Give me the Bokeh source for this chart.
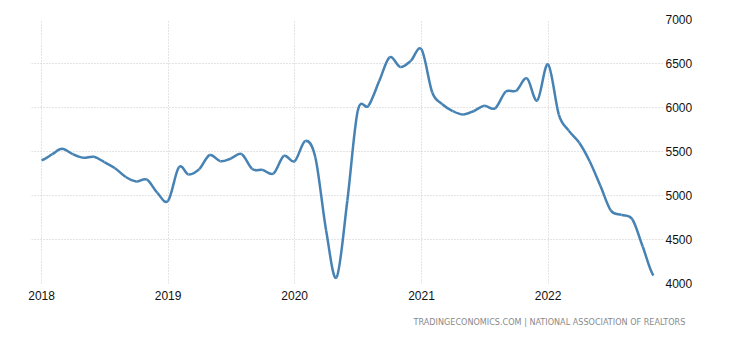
import pandas as pd
import numpy as np
from bokeh.plotting import figure
from bokeh.models import (Range1d, FixedTicker, DatetimeTickFormatter,
                          Title, NumeralTickFormatter)
from bokeh.embed import file_html
from bokeh.resources import INLINE

# Existing home sales (thousands, SAAR), monthly Jan 2018 - Nov 2022
start_month = "2018-01-01"
sales = [
    5400, 5470, 5530, 5470, 5430, 5440, 5380, 5310, 5210, 5160, 5180, 5030,   # 2018
    4940, 5320, 5240, 5300, 5460, 5390, 5420, 5470, 5300, 5290, 5250, 5450,   # 2019
    5390, 5620, 5430, 4600, 4070, 4940, 5960, 6020, 6300, 6570, 6460, 6530,   # 2020
    6660, 6170, 6040, 5960, 5920, 5960, 6020, 5990, 6180, 6190, 6330, 6080,   # 2021
    6490, 5920, 5740, 5600, 5390, 5110, 4830, 4780, 4730, 4420, 4090,         # 2022
]
year_ticks = ["2018", "2019", "2020", "2021", "2022"]
y_ticks = [4000, 4500, 5000, 5500, 6000, 6500, 7000]
source_note = "TRADINGECONOMICS.COM  |  NATIONAL ASSOCIATION OF REALTORS"

dates = pd.date_range(start_month, periods=len(sales), freq="MS")
xs = dates.values.astype("datetime64[ms]").astype(np.int64).astype(float)
ys = np.array(sales, dtype=float)

# Smooth curve through the data points (Catmull-Rom -> cubic Bezier segments)
xp = np.concatenate([[2 * xs[0] - xs[1]], xs, [2 * xs[-1] - xs[-2]]])
yp = np.concatenate([[ys[0]], ys, [ys[-1]]])
t = 1.0 / 6.0
x0, y0 = xs[:-1], ys[:-1]
x1, y1 = xs[1:], ys[1:]
cx0 = x0 + (xp[2:-1] - xp[:-3]) * t
cy0 = y0 + (yp[2:-1] - yp[:-3]) * t
cx1 = x1 - (xp[3:] - xp[1:-2]) * t
cy1 = y1 - (yp[3:] - yp[1:-2]) * t

day = 86400000.0
x_start = xs[0] - 29 * day
x_end = xs[-1] + 29 * day

p = figure(width=722, height=339, output_backend="svg", toolbar_location=None,
           x_axis_type="datetime", y_axis_location="right",
           x_range=Range1d(x_start, x_end), y_range=Range1d(y_ticks[0], y_ticks[-1]),
           min_border_left=31, min_border_right=59, min_border_top=19, min_border_bottom=56)
p.outline_line_color = None
p.background_fill_color = "white"
p.border_fill_color = "white"

p.bezier(x0=x0, y0=y0, x1=x1, y1=y1, cx0=cx0, cy0=cy0, cx1=cx1, cy1=cy1,
         line_color="#4682b4", line_width=2.5)

year_ms = [pd.Timestamp(f"{y}-01-01").value / 1e6 for y in year_ticks]
p.xaxis.ticker = FixedTicker(ticks=year_ms)
p.xaxis.formatter = DatetimeTickFormatter(years="%Y", months="%Y", days="%Y",
                                          hours="%Y", hourmin="%Y", minutes="%Y")
p.yaxis.ticker = FixedTicker(ticks=y_ticks)
p.yaxis.formatter = NumeralTickFormatter(format="0")

for ax in (p.xaxis[0], p.yaxis[0]):
    ax.axis_line_color = None
    ax.major_tick_line_color = None
    ax.minor_tick_line_color = None
    ax.major_label_text_font = "Liberation Sans"
    ax.major_label_text_font_size = "12px"
    ax.major_label_text_color = "#111111"
    ax.major_tick_in = 0
    ax.major_tick_out = 0
p.xaxis.major_label_standoff = 7
p.yaxis.major_label_standoff = 2

for g in (p.xgrid[0], p.ygrid[0]):
    g.grid_line_color = "#c8c8c8"
    g.grid_line_dash = "1 2"
    g.grid_line_width = 1
p.xgrid.ticker = FixedTicker(ticks=year_ms)
p.ygrid.ticker = FixedTicker(ticks=y_ticks)

note = Title(text=source_note, align="right", text_font="DejaVu Sans Condensed",
             text_font_size="9px", text_font_style="normal", text_color="#8a8a8a",
             standoff=25, offset=-27)
p.add_layout(note, "below")

open("out.html", "w").write(file_html(p, INLINE))
